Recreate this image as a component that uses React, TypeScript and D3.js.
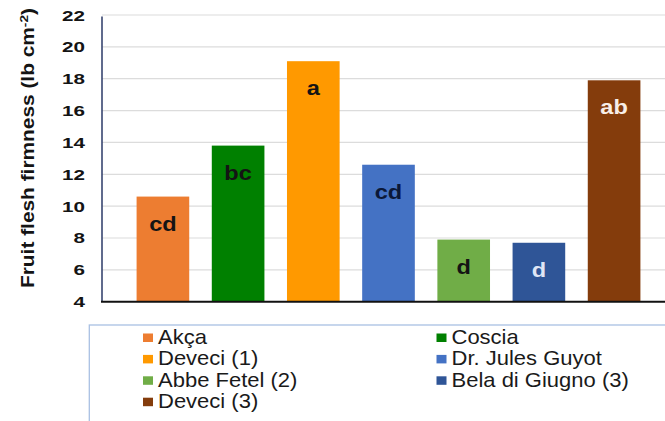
import React from "react";
import * as d3 from "d3";

const cultivars = [
  "Akça",
  "Coscia",
  "Deveci (1)",
  "Dr. Jules Guyot",
  "Abbe Fetel (2)",
  "Bela di Giugno (3)",
  "Deveci (3)",
];
const firmness = [10.6, 13.8, 19.1, 12.6, 7.9, 7.7, 17.9];
const letters = ["cd", "bc", "a", "cd", "d", "d", "ab"];
const barColors = ["#ed7d31", "#008000", "#ff9900", "#4472c4", "#70ad47", "#2f5597", "#843c0c"];
const letterColors = ["#141414", "#141414", "#141414", "#0b1838", "#141414", "#dfe5f5", "#f7eee8"];
const yTicks = [4, 6, 8, 10, 12, 14, 16, 18, 20, 22];

const W = 665;
const H = 421;
const left = 102;
const right = 675;
const top = 15;
const bottom = 301.7;

export default function App() {
  const x = d3
    .scaleBand<string>()
    .domain(cultivars)
    .range([left, right])
    .paddingInner(0.3)
    .paddingOuter(0.46);
  const y = d3.scaleLinear().domain([4, 22]).range([bottom, top]);

  const legendCols = [143, 436.5];
  const legendBase = 344;
  const legendStep = 21.4;

  return (
    <svg
      width={W}
      height={H}
      style={{ position: "absolute", left: 0, top: 0, background: "#ffffff" }}
      fontFamily="'Liberation Sans', Arial, sans-serif"
    >
      <rect x={0} y={0} width={W} height={H} fill="#ffffff" />
      {/* gridlines */}
      {yTicks.slice(1).map((t) => (
        <line key={t} x1={left} x2={right} y1={y(t)} y2={y(t)} stroke="#dcdcdc" strokeWidth={1.2} />
      ))}
      {/* bars */}
      {cultivars.map((c, i) => (
        <rect
          key={c}
          x={x(c)}
          y={y(firmness[i])}
          width={x.bandwidth()}
          height={bottom - y(firmness[i])}
          fill={barColors[i]}
        />
      ))}
      {/* bar letters */}
      {cultivars.map((c, i) => (
        <text
          key={"l" + c}
          transform={`translate(${(x(c) as number) + x.bandwidth() / 2},${y(firmness[i]) + 34}) scale(1.15,1)`}
          textAnchor="middle"
          fontSize={20.5}
          fontWeight="bold"
          fill={letterColors[i]}
        >
          {letters[i]}
        </text>
      ))}
      {/* axes */}
      <line x1={left} x2={left} y1={top + 1.5} y2={bottom} stroke="#2b3a67" strokeWidth={1.5} />
      <line x1={left - 1} x2={right} y1={bottom} y2={bottom} stroke="#111111" strokeWidth={2} />
      {yTicks.map((t) => (
        <text
          key={"t" + t}
          transform={`translate(85,${y(t) + 5.5}) scale(1.33,1)`}
          textAnchor="end"
          fontSize={15.5}
          fontWeight="bold"
          fill="#141414"
        >
          {t}
        </text>
      ))}
      {/* y label */}
      <text
        transform="translate(33.5,148) rotate(-90)"
        textAnchor="middle"
        fontSize={17.5}
        fontWeight="bold"
        fill="#141414"
        textLength={280}
        lengthAdjust="spacingAndGlyphs"
      >
        Fruit flesh firmness (lb cm
        <tspan dy={-6} fontSize={11.5}>-2</tspan>
        <tspan dy={6}>)</tspan>
      </text>
      {/* legend */}
      <rect x={89.3} y={325} width={640} height={130} fill="none" stroke="#a9c1e3" strokeWidth={1.3} />
      {cultivars.map((c, i) => {
        const col = i % 2;
        const row = Math.floor(i / 2);
        const bx = legendCols[col];
        const by = legendBase + row * legendStep;
        return (
          <g key={"lg" + c}>
            <rect x={bx} y={by - 10.5} width={10} height={8.5} fill={barColors[i]} />
            <text
              transform={`translate(${bx + 15},${by}) scale(1.1,1)`}
              fontSize={20}
              fill="#1a1a1a"
            >
              {c}
            </text>
          </g>
        );
      })}
    </svg>
  );
}
